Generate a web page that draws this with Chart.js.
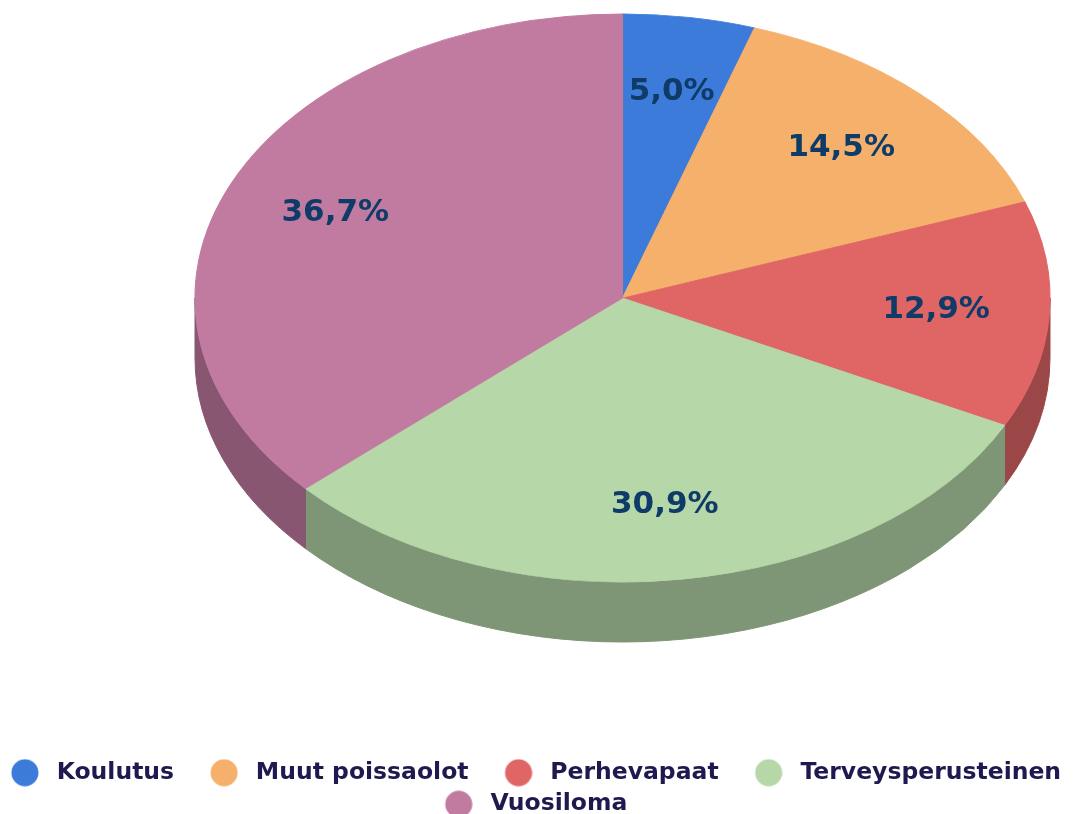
<!DOCTYPE html>
<html>
<head>
<meta charset="utf-8">
<script src="https://cdn.jsdelivr.net/npm/chart.js@4.4.0/dist/chart.umd.min.js"></script>
<style>
  html, body { margin: 0; padding: 0; background: #ffffff; overflow: hidden; }
  #wrap { width: 1078px; height: 814px; }
</style>
</head>
<body>
<div id="wrap"><canvas id="c" width="1078" height="814"></canvas></div>
<script>
// ---- data ----
const categories = ['Koulutus', 'Muut poissaolot', 'Perhevapaat', 'Terveysperusteinen', 'Vuosiloma'];
const shares = [5.0, 14.5, 12.9, 30.9, 36.7];

// ---- styles ----
const topColors = ['#3c7bd9', '#f5b06b', '#e06666', '#b6d7a8', '#c27ba0'];
const sideColors = ['#2a5698', '#ab7b4b', '#9c4747', '#7f9676', '#885670'];
const LAYOUT = { cx: 622.5, cy: 298, rx: 427.5, ry: 284, depth: 60, labelRadius: 0.735 };
const LABEL_FONT = 'bold 31px "DejaVu Sans", Verdana, sans-serif';
const LABEL_COLOR = '#0f3b68';
const LEGEND_COLOR = '#1e1a4f';

// legend dot images
function makeDot(color) {
  const c = document.createElement('canvas');
  c.width = 50; c.height = 28;
  const g = c.getContext('2d');
  g.fillStyle = color;
  g.beginPath();
  g.arc(36, 14, 13.5, 0, Math.PI * 2);
  g.fill();
  return c;
}
const legendDots = topColors.map(makeDot);

const pie3d = {
  id: 'pie3d',
  beforeDatasetsDraw(chart) {
    const ctx = chart.ctx;
    const arcs = chart.getDatasetMeta(0).data;
    if (!arcs.length) return;
    const L = LAYOUT;
    // side walls (visible front half: angles 0..PI)
    arcs.forEach((arc, i) => {
      const p = arc.getProps(['startAngle', 'endAngle'], true);
      const s = Math.max(p.startAngle, 0);
      const e = Math.min(p.endAngle, Math.PI);
      if (e <= s) return;
      ctx.save();
      ctx.fillStyle = sideColors[i];
      ctx.strokeStyle = sideColors[i];
      ctx.lineWidth = 1;
      ctx.beginPath();
      ctx.ellipse(L.cx, L.cy, L.rx, L.ry, 0, s, e, false);
      ctx.ellipse(L.cx, L.cy + L.depth, L.rx, L.ry, 0, e, s, true);
      ctx.closePath();
      ctx.fill();
      ctx.stroke();
      ctx.restore();
    });
    // transform the flat pie into the ellipse top face
    const a0 = arcs[0];
    const r = a0.outerRadius;
    ctx.save();
    ctx.translate(L.cx, L.cy);
    ctx.scale(L.rx / r, L.ry / r);
    ctx.translate(-a0.x, -a0.y);
  },
  afterDatasetsDraw(chart) {
    const ctx = chart.ctx;
    const arcs = chart.getDatasetMeta(0).data;
    if (!arcs.length) return;
    ctx.restore();
    const L = LAYOUT;
    ctx.save();
    ctx.font = LABEL_FONT;
    ctx.fillStyle = LABEL_COLOR;
    ctx.textAlign = 'center';
    ctx.textBaseline = 'middle';
    arcs.forEach((arc, i) => {
      const p = arc.getProps(['startAngle', 'endAngle'], true);
      const mid = (p.startAngle + p.endAngle) / 2;
      const x = L.cx + L.rx * L.labelRadius * Math.cos(mid);
      const y = L.cy + L.ry * L.labelRadius * Math.sin(mid);
      ctx.fillText(shares[i].toFixed(1).replace('.', ',') + '%', x, y);
    });
    ctx.restore();
  }
};

const baseGen = Chart.overrides.pie.plugins.legend.labels.generateLabels;

new Chart(document.getElementById('c'), {
  type: 'pie',
  data: {
    labels: categories,
    datasets: [{
      data: shares,
      backgroundColor: topColors,
      borderColor: topColors,
      borderWidth: 1
    }]
  },
  options: {
    responsive: false,
    animation: false,
    events: [],
    layout: { padding: { top: 0, left: -42, right: -8, bottom: -12 } },
    plugins: {
      tooltip: { enabled: false },
      legend: {
        position: 'bottom',
        labels: {
          usePointStyle: true,
          pointStyleWidth: 62,
          padding: 8,
          color: LEGEND_COLOR,
          font: { family: '"DejaVu Sans", Verdana, sans-serif', size: 23.5, weight: 'bold' },
          generateLabels(chart) {
            const items = baseGen(chart);
            items.forEach((it, i) => { it.pointStyle = legendDots[i]; it.fontColor = LEGEND_COLOR; });
            return items;
          }
        }
      }
    }
  },
  plugins: [pie3d]
});
</script>
</body>
</html>
